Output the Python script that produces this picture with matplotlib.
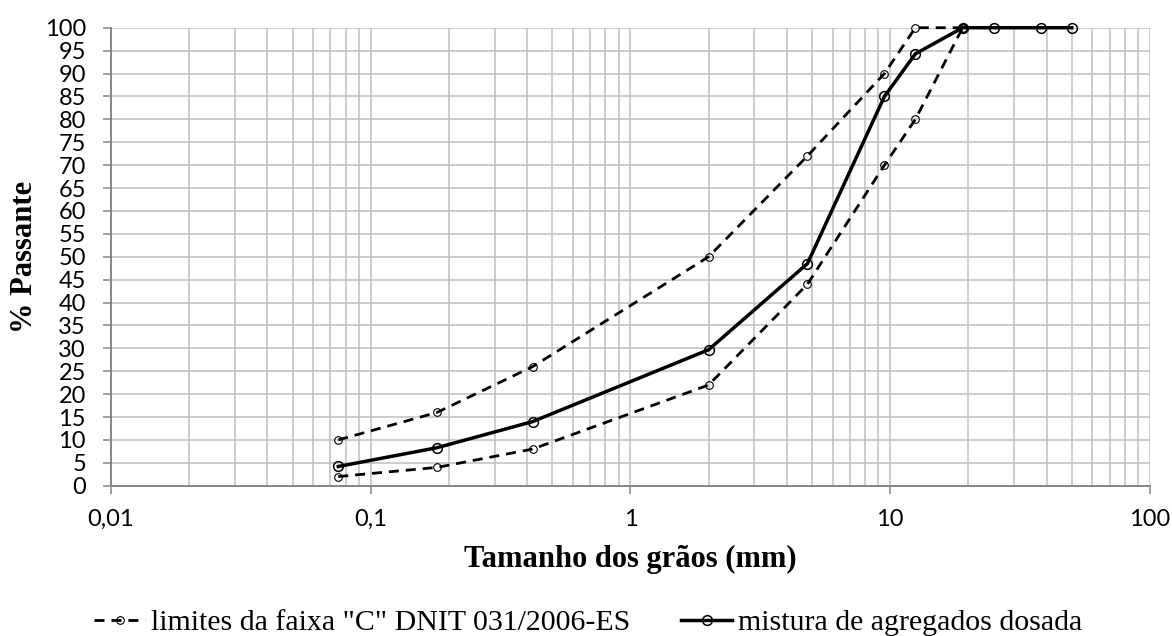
import matplotlib
matplotlib.use("Agg")
import matplotlib.pyplot as plt
from matplotlib.ticker import FixedLocator, FuncFormatter, LogLocator, MultipleLocator, NullFormatter

# Peneiras (mm) e % passante
sieves_mm = [0.075, 0.18, 0.42, 2.0, 4.8, 9.5, 12.5, 19.0, 25.0, 38.0, 50.0]
mix_passing = [4.2, 8.3, 14.0, 29.7, 48.5, 85.0, 94.3, 100.0, 100.0, 100.0, 100.0]

# Faixa "C" DNIT 031/2006-ES
band_sieves_mm = [0.075, 0.18, 0.42, 2.0, 4.8, 9.5, 12.5, 19.0]
band_upper = [10, 16, 26, 50, 72, 90, 100, 100]
band_lower = [2, 4, 8, 22, 44, 70, 80, 100]

x_ticks = [0.01, 0.1, 1, 10, 100]

SERIF = ["Liberation Serif", "DejaVu Serif"]
SANS = ["Lato", "DejaVu Sans"]
GRID = "#BFBFBF"
AXIS = "#868686"

fig = plt.figure(figsize=(11.72, 6.36), dpi=100)
ax = fig.add_axes([0.0947, 0.2363, 0.8865, 0.7201])

dash = dict(color="black", linewidth=2.0, linestyle=(0, (3.6, 2.5)),
            marker="o", markersize=5.5, markerfacecolor="none",
            markeredgecolor="black", markeredgewidth=0.8, clip_on=False, zorder=3)
ax.plot(band_sieves_mm, band_upper, label='limites da faixa "C" DNIT 031/2006-ES', **dash)
ax.plot(band_sieves_mm, band_lower, **dash)

ax.plot(sieves_mm, mix_passing, color="black", linewidth=2.5,
        marker="o", markersize=7, markerfacecolor="none",
        markeredgecolor="black", markeredgewidth=1.1,
        label="mistura de agregados dosada", clip_on=False, zorder=4)

ax.set_xscale("log")
ax.set_xlim(0.01, 100)
ax.set_ylim(0, 100)
ax.xaxis.set_major_locator(FixedLocator(x_ticks))
ax.xaxis.set_major_formatter(FuncFormatter(lambda v, _p: f"{v:g}".replace(".", ",")))
ax.xaxis.set_minor_locator(LogLocator(base=10, subs=range(2, 10)))
ax.xaxis.set_minor_formatter(NullFormatter())
ax.yaxis.set_major_locator(MultipleLocator(5))

ax.grid(True, which="both", axis="x", color=GRID, linewidth=1.1, zorder=0)
ax.grid(True, which="major", axis="y", color=GRID, linewidth=1.1, zorder=0)
ax.set_axisbelow(True)

for side in ("top", "right"):
    ax.spines[side].set_visible(False)
for side in ("left", "bottom"):
    ax.spines[side].set_color(AXIS)
    ax.spines[side].set_linewidth(1.4)

ax.tick_params(which="major", direction="out", length=6, width=1.1, color=AXIS,
               labelsize=17)
ax.tick_params(axis="x", pad=11)
ax.tick_params(axis="y", pad=12)
ax.tick_params(which="minor", length=0)
for lbl in ax.get_xticklabels() + ax.get_yticklabels():
    lbl.set_family(SANS)

ax.set_xlabel("Tamanho dos grãos (mm)", family=SERIF, fontweight="bold", fontsize=22)
ax.xaxis.set_label_coords(0.5, -0.162)
ax.xaxis.label.set_va("center")
ax.set_ylabel("% Passante", family=SERIF, fontweight="bold", fontsize=22)
ax.yaxis.set_label_coords(-0.0837, 0.5)
ax.yaxis.label.set_va("center")

fig.legend(loc="center", bbox_to_anchor=(0.502, 1 - 623 / 636), ncol=2,
           frameon=False, prop={"family": SERIF, "size": 21.5},
           handlelength=1.7, handletextpad=0.2, columnspacing=1.7,
           borderaxespad=0, borderpad=0)

fig.savefig("out.png", dpi=100)
